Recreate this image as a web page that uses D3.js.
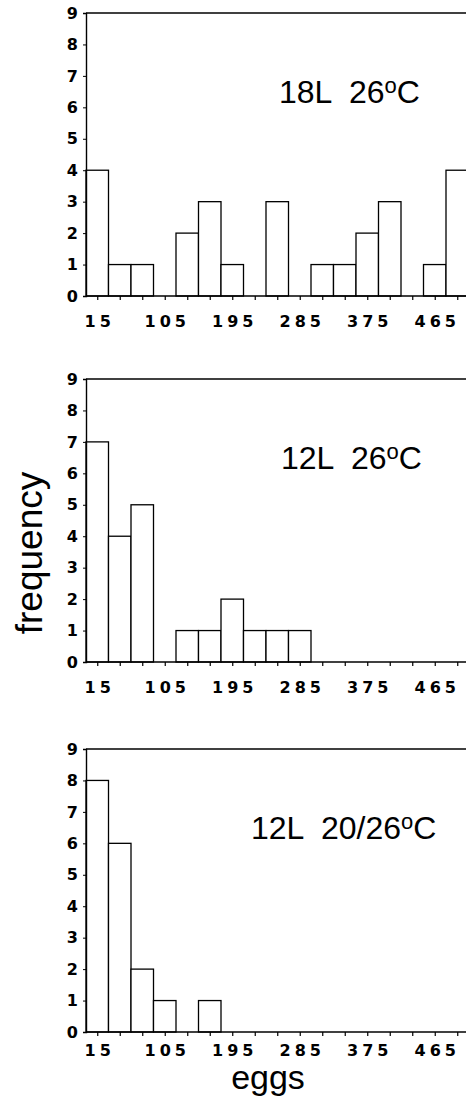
<!DOCTYPE html>
<html>
<head>
  <meta charset="utf-8">
  <title>Egg frequency histograms</title>
  <script src="https://d3js.org/d3.v7.min.js"></script>
  <style>
    body { margin: 0; background: #fff; }
    text.title { white-space: pre; }
  </style>
</head>
<body>
<script>
// bin centres (eggs), width 30
var binCenters = [15, 45, 75, 105, 135, 165, 195, 225, 255, 285, 315, 345, 375, 405, 435, 465, 495];
var tickLabels = [15, 105, 195, 285, 375, 465];
var yTicks = [0, 1, 2, 3, 4, 5, 6, 7, 8, 9];

var counts18L26 = [4, 1, 1, 0, 2, 3, 1, 0, 3, 0, 1, 1, 2, 3, 0, 1, 4];
var counts12L26 = [7, 4, 5, 0, 1, 1, 2, 1, 1, 1, 0, 0, 0, 0, 0, 0, 0];
var counts12L2026 = [8, 6, 2, 1, 0, 1, 0, 0, 0, 0, 0, 0, 0, 0, 0, 0, 0];

var titles = ["18L  26", "12L  26", "12L  20/26"];

var width = 466, height = 1100;
var binWidth = 30;

// panel layout (pixels)
var panels = [
  { counts: counts18L26, title: titles[0], top: 13, titleX: 279, labelOff: 31 },
  { counts: counts12L26, title: titles[1], top: 379, titleX: 281, labelOff: 31 },
  { counts: counts12L2026, title: titles[2], top: 749, titleX: 251, labelOff: 24 }
];
var panelH = 283;

var svg = d3.select("body").append("svg")
  .attr("width", width).attr("height", height);

var xScale = d3.scaleLinear().domain([0, 510]).range([86, 468.5]);

var tickFont = "'DejaVu Sans', sans-serif";
var textFont = "'Liberation Sans', Arial, sans-serif";

panels.forEach(function(p) {
  var yScale = d3.scaleLinear().domain([0, 9]).range([p.top + panelH, p.top]);
  var g = svg.append("g");

  // bars
  var data = binCenters.map(function(c, i) { return { c: c, v: p.counts[i] }; })
    .filter(function(d) { return d.v > 0; });
  g.selectAll("rect").data(data).enter().append("rect")
    .attr("x", function(d) { return xScale(d.c - binWidth / 2); })
    .attr("y", function(d) { return yScale(d.v); })
    .attr("width", function(d) { return xScale(d.c + binWidth / 2) - xScale(d.c - binWidth / 2); })
    .attr("height", function(d) { return yScale(0) - yScale(d.v); })
    .attr("fill", "white")
    .attr("stroke", "black")
    .attr("stroke-width", 1.3);

  // top frame line
  g.append("line")
    .attr("x1", xScale(0)).attr("x2", width)
    .attr("y1", yScale(9)).attr("y2", yScale(9))
    .attr("stroke", "black").attr("stroke-width", 1.4);

  // x axis
  var ax = d3.axisBottom(xScale).tickValues(binCenters).tickSize(4).tickFormat("");
  var gx = g.append("g")
    .attr("transform", "translate(0," + yScale(0) + ")")
    .call(ax);
  gx.select(".domain").attr("d", "M" + xScale(0) + ",0H" + width).attr("stroke-width", 1.4);
  gx.selectAll(".tick line").attr("stroke-width", 1.2);

  g.selectAll(".xl").data(tickLabels).enter().append("text")
    .attr("x", function(d) { return xScale(d) + 2.5; })
    .attr("y", yScale(0) + p.labelOff)
    .attr("text-anchor", "middle")
    .attr("font-family", tickFont)
    .attr("font-weight", "bold")
    .attr("font-size", 16)
    .attr("letter-spacing", "4px")
    .text(function(d) { return d; });

  // y axis
  var ay = d3.axisLeft(yScale).tickValues(yTicks).tickSize(3).tickPadding(5);
  var gy = g.append("g")
    .attr("transform", "translate(" + xScale(0) + ",0)")
    .call(ay);
  gy.select(".domain").attr("stroke-width", 1.4);
  gy.selectAll("text")
    .attr("font-family", tickFont)
    .attr("font-weight", "bold")
    .attr("font-size", 16)
    .attr("fill", "black");

  // panel title
  var t = g.append("text")
    .attr("class", "title")
    .attr("x", p.titleX)
    .attr("y", p.top + 90)
    .attr("font-family", textFont)
    .attr("font-size", 32)
    .attr("fill", "black");
  t.append("tspan").text(p.title);
  t.append("tspan").attr("font-size", 22).attr("dy", -10).text("o");
  t.append("tspan").attr("dy", 10).text("C");
});

// axis titles
svg.append("text")
  .attr("x", 268).attr("y", 1089)
  .attr("text-anchor", "middle")
  .attr("font-family", textFont)
  .attr("font-size", 34)
  .text("eggs");

svg.append("text")
  .attr("transform", "translate(42,553) rotate(-90)")
  .attr("text-anchor", "middle")
  .attr("font-family", textFont)
  .attr("font-size", 37)
  .text("frequency");
</script>
</body>
</html>
